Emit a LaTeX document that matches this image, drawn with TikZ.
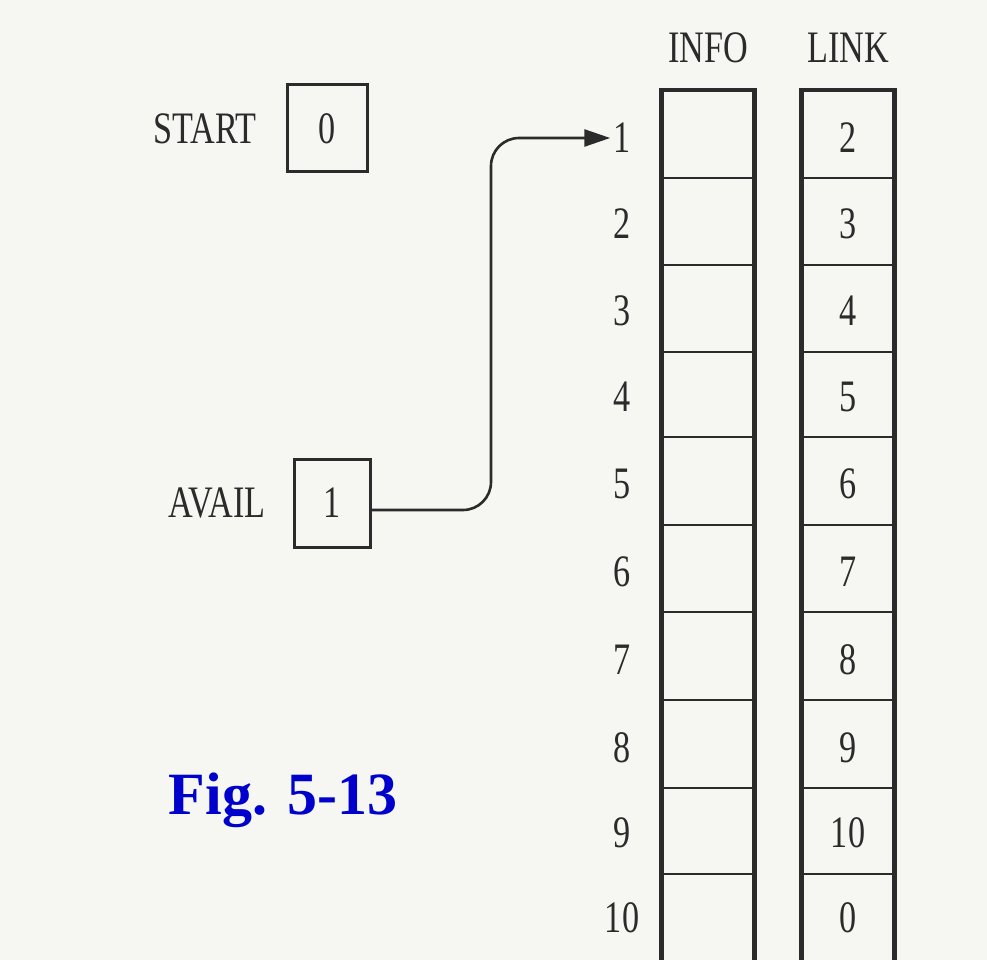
\documentclass[tikz,border=0pt]{standalone}
\usepackage{fontspec}
\setmainfont{Liberation Serif}
\usetikzlibrary{arrows.meta}
\definecolor{ink}{HTML}{2B2B2B}
\definecolor{paper}{HTML}{F6F6F3}
\definecolor{figblue}{RGB}{0,0,205}
\newcommand\narrowtxt[1]{\scalebox{0.76}[1]{#1}}
\begin{document}
\begin{tikzpicture}[x=1pt,y=-1pt,
  txt/.style={text=ink,font=\fontsize{45}{45}\selectfont,inner sep=0pt},
  regbox/.style={draw=ink,line width=3pt,minimum width=78pt,minimum height=87pt,inner sep=0pt,text=ink,font=\fontsize{45}{45}\selectfont},
  colbox/.style={draw=ink,line width=4.5pt,minimum width=93pt,minimum height=872pt,anchor=north,inner sep=0pt},
  sep/.style={draw=ink,line width=2.5pt},
  conn/.style={draw=ink,line width=2.6pt,rounded corners=28pt,-{Triangle[length=26pt,width=17pt]}}
]
\fill[paper] (0,0) rectangle (987,960);
\useasboundingbox (0,0) rectangle (987,960);

% headers
\node[txt] (infohd) at (708,48) {\narrowtxt{INFO}};
\node[txt] (linkhd) at (848,48) {\narrowtxt{LINK}};

% columns
\node[colbox] (infocol) at (708,88) {};
\node[colbox] (linkcol) at (848,88) {};
\foreach \yy in {178,265,352,437,525,612,700,788,874}{
  \draw[sep] ([xshift=1pt]infocol.west |- 0,\yy) -- ([xshift=-1pt]infocol.east |- 0,\yy);
  \draw[sep] ([xshift=1pt]linkcol.west |- 0,\yy) -- ([xshift=-1pt]linkcol.east |- 0,\yy);
}

% row numbers and link values
\foreach \i/\yy/\lk in {1/138/2,2/224/3,3/311/4,4/397/5,5/484/6,6/572/7,7/660/8,8/748/9,9/833/10,10/918/0}{
  \node[txt] (r\i) at (622,\yy) {\narrowtxt{\i}};
  \node[txt] (lk\i) at (848,\yy) {\narrowtxt{\lk}};
}

% START and AVAIL
\node[txt] (startlbl) at (205,129) {\narrowtxt{START}};
\node[regbox,minimum width=80pt] (startbox) at (327,128.5) {\narrowtxt{0}};
\node[txt] (availlbl) at (217,503) {\narrowtxt{AVAIL}};
\node[regbox,minimum width=76pt,minimum height=88pt] (availbox) at (332,503) {\narrowtxt{1}};

% pointer
\coordinate (a0) at (availbox.east |- 0,510);
\coordinate (bendlow) at (491,510);
\coordinate (bendhigh) at (491,138);
\draw[conn] (a0) -- (bendlow) -- (bendhigh) -- ([xshift=-3pt]r1.west);

% caption
\node[text=figblue,font=\fontsize{60}{60}\selectfont\bfseries,inner sep=0pt] (fig) at (283,800) {Fig. 5-13};
\end{tikzpicture}
\end{document}
